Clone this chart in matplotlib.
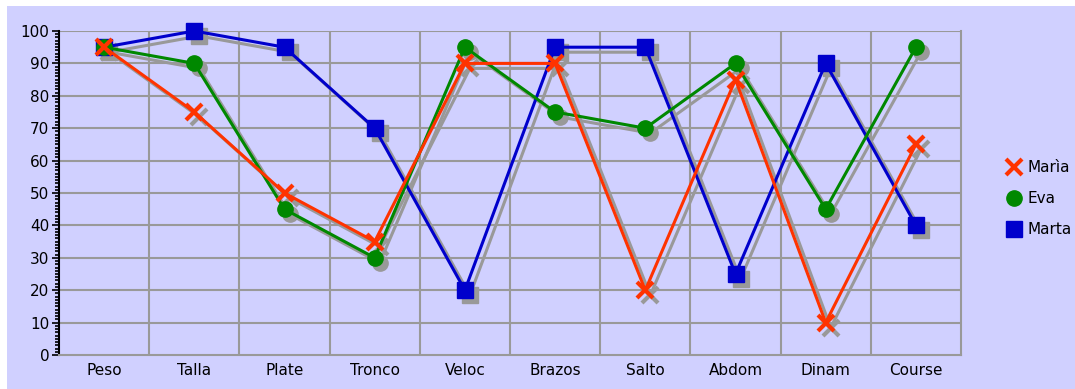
import matplotlib.pyplot as plt
import matplotlib.transforms as mtransforms
from matplotlib.ticker import MultipleLocator

# Scores per test
categories = ['Peso', 'Talla', 'Plate', 'Tronco', 'Veloc', 'Brazos', 'Salto', 'Abdom', 'Dinam', 'Course']
maria = [95, 75, 50, 35, 90, 90, 20, 85, 10, 65]
eva = [95, 90, 45, 30, 95, 75, 70, 90, 45, 95]
marta = [95, 100, 95, 70, 20, 95, 95, 25, 90, 40]

bg = '#d0d0ff'
grid_col = '#999999'

fig = plt.figure(figsize=(10.75, 3.89), dpi=100, facecolor=bg)
# thin white margins on top and left
fig.patches.append(plt.Rectangle((0, 1 - 6 / 389), 1, 6 / 389, transform=fig.transFigure,
                                 facecolor='white', edgecolor='none', zorder=-10))
fig.patches.append(plt.Rectangle((0, 0), 7 / 1075, 1, transform=fig.transFigure,
                                 facecolor='white', edgecolor='none', zorder=-10))

ax = fig.add_axes([59 / 1075, 34 / 389, 902 / 1075, 324 / 389])
ax.set_facecolor(bg)

x = list(range(len(categories)))
ax.set_xlim(-0.5, len(categories) - 0.5)
ax.set_ylim(0, 100)

# grid: horizontal every 10, vertical between categories
for yv in range(10, 101, 10):
    ax.axhline(yv, color=grid_col, lw=1.5, zorder=1)
for xv in range(1, len(categories)):
    ax.axvline(xv - 0.5, color=grid_col, lw=1.5, zorder=1)

series = [
    ('Marta', marta, '#0000cc', 's', 11),
    ('Eva', eva, '#008800', 'o', 11),
    ('Marìa', maria, '#ff3300', 'x', 12),
]

# drop shadows
shadow = mtransforms.offset_copy(ax.transData, fig=fig, x=5, y=-5, units='dots')
for name, vals, col, mk, ms in series:
    ax.plot(x, vals, color=grid_col, lw=2.2, marker=mk, ms=ms, mew=3 if mk == 'x' else 1,
            transform=shadow, zorder=2, clip_on=False)

handles = {}
for name, vals, col, mk, ms in series:
    line, = ax.plot(x, vals, color=col, lw=2.2, marker=mk, ms=ms,
                    mew=3 if mk == 'x' else 1, mec=col, mfc=col, zorder=3, clip_on=False)
    handles[name] = line

ax.set_xticks(x)
ax.set_xticklabels(categories, fontsize=11)
ax.tick_params(axis='x', length=0, pad=6)
ax.set_yticks(range(0, 101, 10))
ax.yaxis.set_minor_locator(MultipleLocator(1))
ax.tick_params(axis='y', which='major', length=5, width=1.2, labelsize=11, pad=2)
ax.tick_params(axis='y', which='minor', length=3, width=1.2)

ax.spines['top'].set_visible(False)
ax.spines['right'].set_color(grid_col)
ax.spines['right'].set_linewidth(1.5)
ax.spines['bottom'].set_color(grid_col)
ax.spines['bottom'].set_linewidth(1.5)
ax.spines['left'].set_color('black')
ax.spines['left'].set_linewidth(1.5)

leg = fig.legend([handles['Marìa'], handles['Eva'], handles['Marta']], ['Marìa', 'Eva', 'Marta'],
                 loc='upper left', bbox_to_anchor=(1002 / 1075, 1 - 154 / 389),
                 frameon=False, fontsize=11, handlelength=0.8, handletextpad=0.5,
                 labelspacing=1.05, borderaxespad=0)
for h in leg.legend_handles:
    h.set_linestyle('none')

fig.savefig('out.png', dpi=100, facecolor=bg)
